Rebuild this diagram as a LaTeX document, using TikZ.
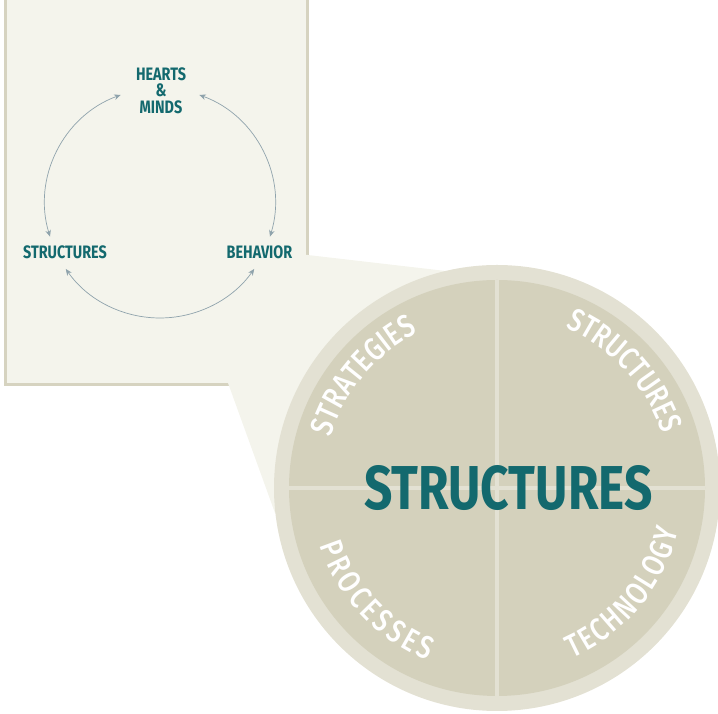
\documentclass[tikz,border=0pt]{standalone}
\usepackage{fontspec}
\setmainfont{Fira Sans}
\newfontfamily\labelfont{Fira Sans}[FakeStretch=0.8]
\newfontfamily\arcfont{Fira Sans}[UprightFont={* Medium},FakeStretch=0.8]
\usetikzlibrary{arrows.meta,decorations.text}
\definecolor{panelfill}{HTML}{F4F4EC}
\definecolor{panelline}{HTML}{D6D3C0}
\definecolor{ringfill}{HTML}{E3E1D3}
\definecolor{corefill}{HTML}{D4D1BC}
\definecolor{headteal}{HTML}{13696E}
\definecolor{loopgrey}{HTML}{8FA3AC}
\tikzset{>={Stealth[length=6.5pt,width=5.5pt,inset=2pt]}}

\begin{document}
\begin{tikzpicture}[x=1pt,y=1pt,
  rim/.style={draw=panelline,line width=3pt},
  loopname/.style={font=\labelfont\bfseries\fontsize{18}{16.7}\selectfont,text=headteal,align=center,inner sep=0pt},
  cyc/.style={<->,draw=loopgrey,line width=0.7pt},
  divider/.style={draw=ringfill,line width=3.5pt}]
  \useasboundingbox (0,0) rectangle (718,714);
  \clip (0,0) rectangle (718,714);

  % help functions
        % white words running round the big circle
  \def\arcLabel(#1,#2,#3,#4){
    \path[decoration={text effects along path,text={#4},
        text effects/.cd,text along path,fit text to path,
        characters={text=white,inner sep=0pt,font=\arcfont\fontsize{32}{32}\selectfont}},
      decorate] (#1:#3) arc[start angle=#1,end angle=#2,radius=#3];}

  % panel
  \fill[panelfill] (5.5,329.5) rectangle (307.5,720);
  \draw[rim] (5.5,720) -- (5.5,329.5) -- (307.5,329.5) -- (307.5,720);

  % zoom wedge
  \coordinate (cen) at (497,226);
  \fill[panelfill] (228,331) -- (306,459.2) -- (470,440.2) -- (cen) -- (275,201) -- cycle;

  % big circle
  \node[circle,fill=ringfill,minimum size=446pt,inner sep=0pt] (outer) at (cen) {};
  \node[circle,fill=corefill,minimum size=416pt,inner sep=0pt] (inner) at (cen) {};
  \draw[divider] (inner.north) -- (inner.south);
  \draw[divider] (inner.west) -- (inner.east);

  \begin{scope}[shift={(cen)}]
    \arcLabel(163,117,174,STRATEGIES)
    \arcLabel(67,18,174,STRUCTURES)
    \arcLabel(198,248,186,PROCESSES)
    \arcLabel(294,347,186,TECHNOLOGY)
  \end{scope}

  \node[font=\labelfont\bfseries\fontsize{62}{62}\selectfont,text=headteal,inner sep=0pt] (big) at (508.5,225.5) {STRUCTURES};

  % loop
  \def\lr{115}
  \coordinate (loop) at (160,511);
  \node[loopname] (hm) at (161,623.5) {HEARTS\\\&\\MINDS};
  \node[loopname] (st) at (65,461.5) {STRUCTURES};
  \node[loopname] (be) at (259.5,461.5) {BEHAVIOR};

  \path (loop) ++(110:\lr) coordinate (hmL);
  \path (loop) ++(215:\lr) coordinate (stB);
  \path (loop) ++(-17:\lr) coordinate (beT);
  \draw[cyc] (hmL) arc[start angle=110,end angle=197,radius=\lr];
  \draw[cyc] (stB) arc[start angle=215,end angle=325,radius=\lr];
  \draw[cyc] (beT) arc[start angle=-17,end angle=70,radius=\lr];

\end{tikzpicture}
\end{document}
